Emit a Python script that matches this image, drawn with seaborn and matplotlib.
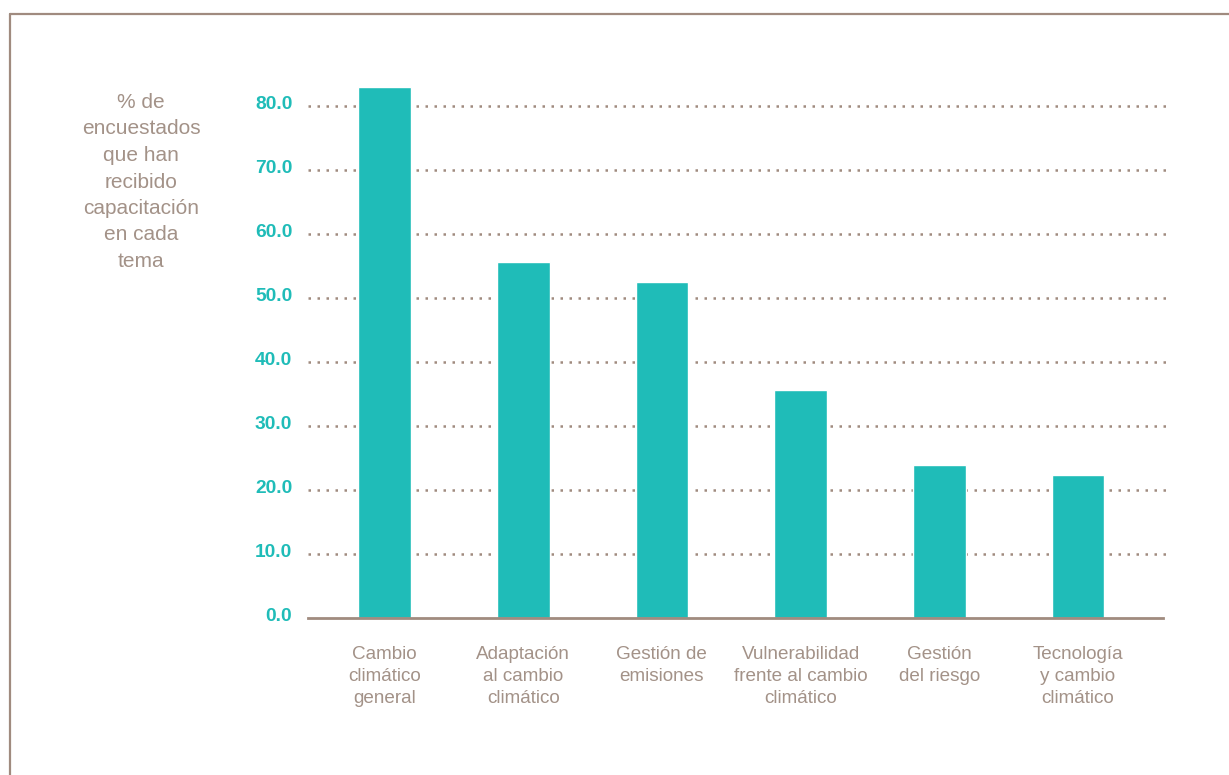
import matplotlib
matplotlib.use("Agg")
import matplotlib.pyplot as plt
import matplotlib.transforms as mtransforms
from matplotlib.lines import Line2D
import seaborn as sns

# datos
temas = ["Cambio\nclimático\ngeneral", "Adaptación\nal cambio\nclimático",
         "Gestión de\nemisiones", "Vulnerabilidad\nfrente al cambio\nclimático",
         "Gestión\ndel riesgo", "Tecnología\ny cambio\nclimático"]
porcentajes = [83.0, 55.6, 52.5, 35.6, 23.9, 22.3]
ticks_y = [0, 10, 20, 30, 40, 50, 60, 70, 80]
etiqueta_y = "% de\nencuestados\nque han\nrecibido\ncapacitación\nen cada\ntema"

teal = "#1fbcb8"
marron = "#a39288"
linea = "#a08b7f"

sns.set_style("white")
plt.rcParams["font.family"] = ["Liberation Sans", "DejaVu Sans"]

fig = plt.figure(figsize=(12.29, 7.75), dpi=100)
ax = fig.add_axes([0.2508, 0.2026, 0.7008, 0.702])

sns.barplot(x=temas, y=porcentajes, color=teal, saturation=1, width=0.38, ax=ax)

ax.set_xlim(-0.55, 5.66)
ax.set_ylim(0, 85)
ax.set_yticks(ticks_y)
ax.set_yticklabels([f"{t:.1f}" for t in ticks_y], color=teal, fontsize=13.8,
                   fontweight="bold")
ax.tick_params(axis="y", length=0, pad=11.5)
ax.tick_params(axis="x", length=0, pad=20.5, labelsize=13.6, labelcolor=marron)
for lab in ax.get_yticklabels():
    lab.set_transform(lab.get_transform() +
                      mtransforms.ScaledTranslation(0, 3 / 100, fig.dpi_scale_trans))
for lab in ax.get_xticklabels():
    lab.set_linespacing(1.35)
    lab.set_multialignment("center")

ax.set_axisbelow(True)
ax.yaxis.grid(True, color=linea, linewidth=1.8, linestyle=(0, (1, 2.6)))
ax.set_xlabel("")
ax.set_ylabel("")
for s in ["top", "right", "left"]:
    ax.spines[s].set_visible(False)
ax.spines["bottom"].set_color(linea)
ax.spines["bottom"].set_linewidth(2)
ax.spines["bottom"].set_bounds(-0.55, 5.61)
# sin gridline en 0
ax.get_ygridlines()[0].set_visible(False)

fig.text(141 / 1229, 1 - 93 / 775, etiqueta_y, ha="center", va="top",
         fontsize=15, color=marron, linespacing=1.5, multialignment="center")

# marco
fig.add_artist(Line2D([10 / 1229, 1], [1 - 14 / 775] * 2, transform=fig.transFigure,
                      color=linea, linewidth=1.6))
fig.add_artist(Line2D([10 / 1229] * 2, [0, 1 - 14 / 775], transform=fig.transFigure,
                      color=linea, linewidth=1.6))

fig.savefig("out.png", dpi=100)
